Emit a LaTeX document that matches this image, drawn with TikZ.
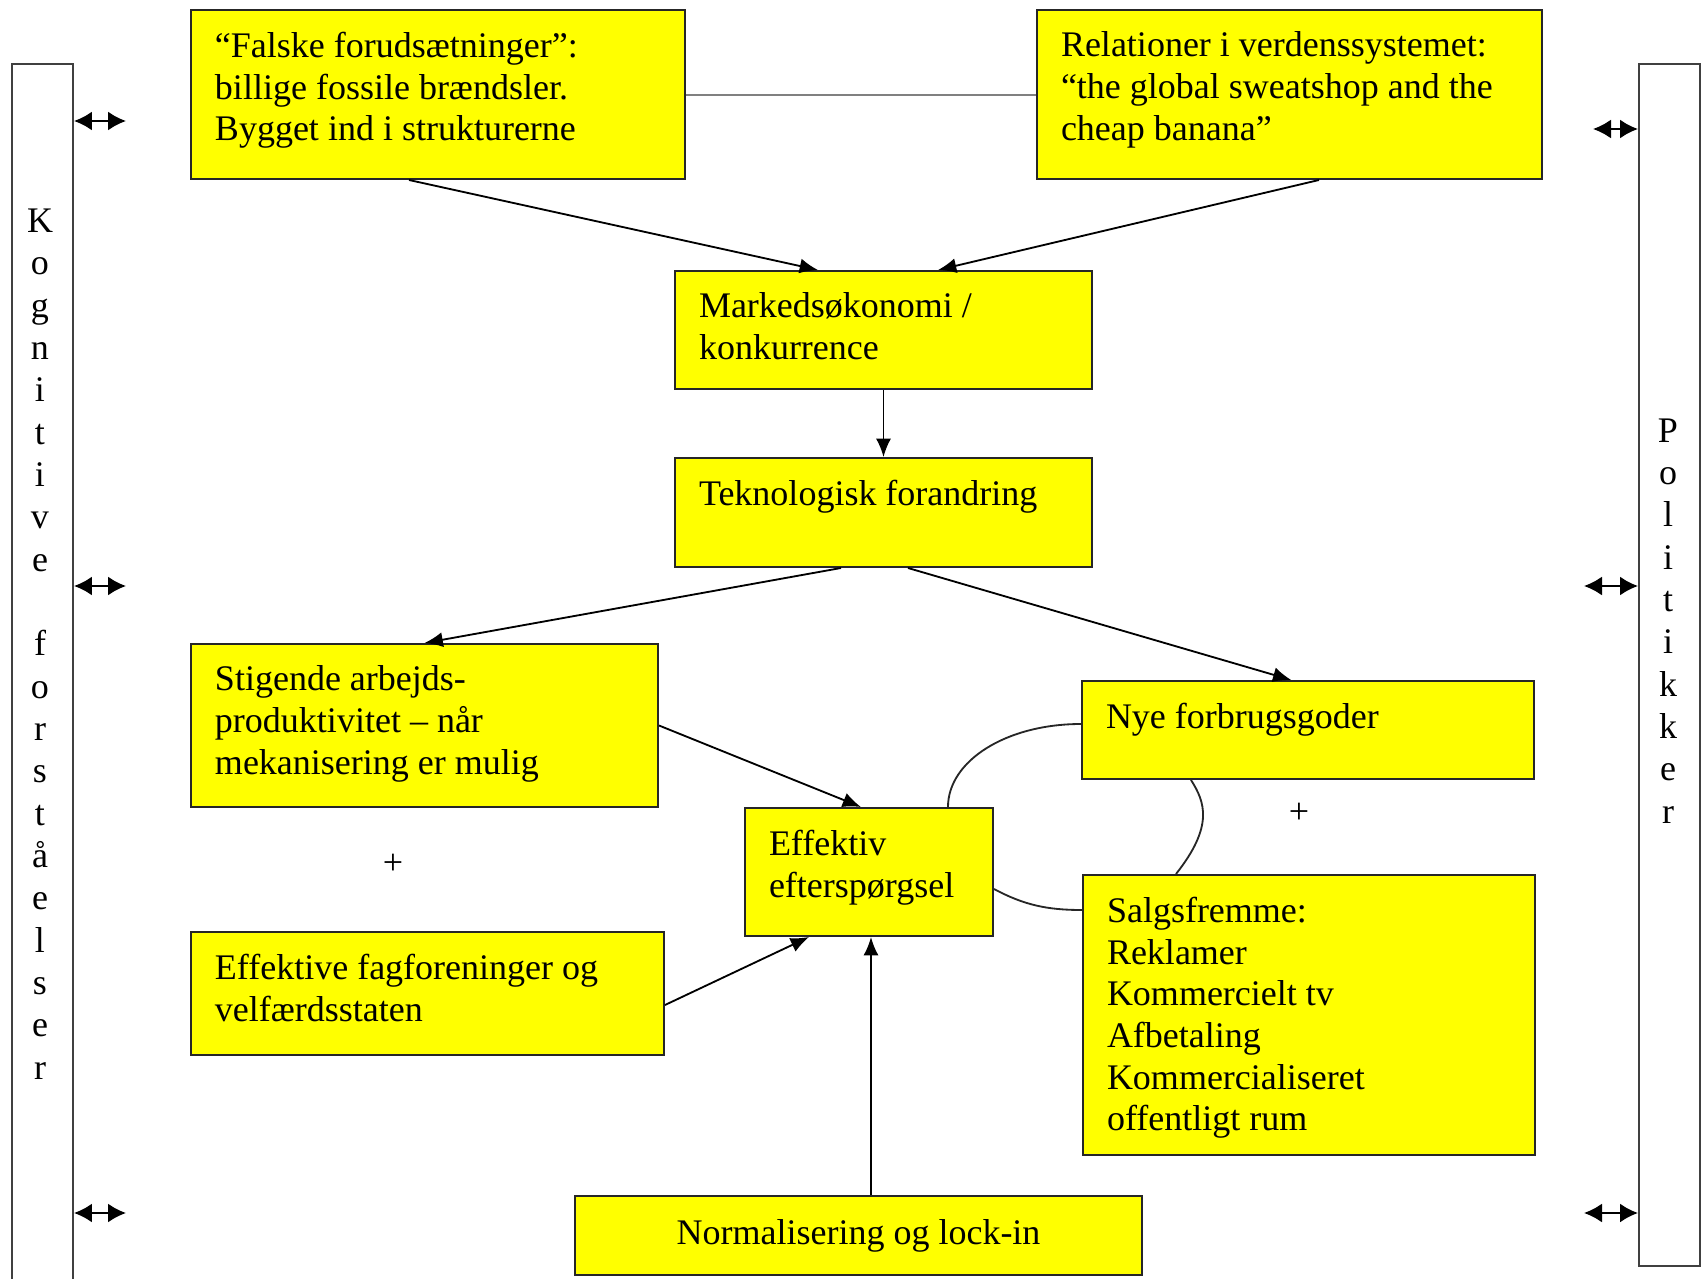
\documentclass[tikz,border=0pt]{standalone}
\usepackage{fontspec}
\setmainfont{Liberation Serif}
\usepackage{tikz}
\usetikzlibrary{arrows.meta, positioning, calc}
\definecolor{boxyellow}{RGB}{255,255,0}
\definecolor{bargray}{RGB}{64,64,64}
\newlength{\pxu}
\setlength{\pxu}{0.3pt}
\newcommand{\boxtext}[3]{\parbox[c][\dimexpr#2\pxu-44\pxu\relax][t]{\dimexpr#1\pxu-48\pxu\relax}{\raggedright#3}}
\tikzset{
	ybox/.style={draw=black!85, line width=0.6pt, fill=boxyellow, anchor=north west,
		inner xsep=7.2pt, inner ysep=6.6pt, font=\fontsize{10.8}{12.5}\selectfont},
	arr/.style={-{Latex[length=5.5pt,width=4.5pt]}, line width=0.55pt},
	link/.style={line width=0.55pt, black!85},
	sidebar/.style={draw=bargray, line width=0.6pt, anchor=north west, minimum width=18.3pt, inner sep=0pt},
	dblarr/.style={{Latex[length=5.4pt,width=5.7pt]}-{Latex[length=5.4pt,width=5.7pt]}, line width=0.6pt},
	vtext/.style={align=center, inner sep=0pt, font=\fontsize{10.8}{12.7}\selectfont}
}
\begin{document}
\begin{tikzpicture}[x=0.3pt, y=-0.3pt]
	\useasboundingbox (0,0) rectangle (1704,1279);
	\node[sidebar, minimum height=368.1pt] (kogn) at (11,63) {};
	\node[sidebar, minimum height=360.6pt] (polit) at (1638,63) {};
	\node[vtext] (kogntxt) at (40,644) {K\\o\\g\\n\\i\\t\\i\\v\\e\\\mbox{}\\f\\o\\r\\s\\t\\å\\e\\l\\s\\e\\r};
	\node[vtext] (polittxt) at (1668,621) {P\\o\\l\\i\\t\\i\\k\\k\\e\\r};

	\node[ybox] (falske) at (190,9) {\boxtext{494}{169}{“Falske forudsætninger”:\\billige fossile brændsler.\\Bygget ind i strukturerne}};
	\node[ybox] (relat) at (1036,9) {\boxtext{505}{169}{Relationer i verdenssystemet:\\“the global sweatshop and the\\cheap banana”}};
	\node[ybox] (marked) at (674,270) {\boxtext{417}{118}{Markedsøkonomi /\\konkurrence}};
	\node[ybox] (tekno) at (674,457) {\boxtext{417}{109}{Teknologisk forandring}};
	\node[ybox] (stig) at (190,643) {\boxtext{467}{163}{Stigende arbejds-\\produktivitet – når\\mekanisering er mulig}};
	\node[ybox] (nye) at (1081,680) {\boxtext{452}{98}{Nye forbrugsgoder}};
	\node[ybox] (effekt) at (744,807) {\boxtext{248}{128}{Effektiv\\efterspørgsel}};
	\node[ybox] (fag) at (190,931) {\boxtext{473}{123}{Effektive fagforeninger og\\velfærdsstaten}};
	\node[ybox] (salgs) at (1082,874) {\boxtext{452}{280}{Salgsfremme:\\Reklamer\\Kommercielt tv\\Afbetaling\\Kommercialiseret\\offentligt rum}};
	\node[ybox, inner sep=0pt, minimum width=170.1pt, minimum height=23.7pt] (norm) at (574,1195) {Normalisering og lock-in};

	\node[font=\fontsize{10.8}{12.5}\selectfont] (plusl) at (393,864) {+};
	\node[font=\fontsize{10.8}{12.5}\selectfont] (plusr) at (1299,813) {+};

	\draw[gray, line width=0.6pt] (falske.east) -- (relat.west);
	\draw[arr] ([xshift=-8.7pt]falske.south) -- ([xshift=-19.65pt]marked.north);
	\draw[arr] ([xshift=8.85pt]relat.south) -- ([xshift=16.35pt]marked.north);
	\draw[arr] (marked.south) -- (tekno.north);
	\draw[arr] ([xshift=-12.75pt]tekno.south) -- (stig.north);
	\draw[arr] ([xshift=7.35pt]tekno.south) -- ([xshift=-5pt]nye.north);
	\draw[arr] (stig.east) -- ([xshift=-2.4pt]effekt.north);
	\draw[arr] ([yshift=-3.45pt]fag.east) -- ([xshift=-18pt]effekt.south);
	\draw[arr] ([xshift=3.75pt]norm.north) -- ([xshift=3.75pt]norm.north |- effekt.south);

	\draw[link] ([xshift=23.7pt]effekt.north) .. controls +(0,-46) and +(-75,0) .. ([yshift=1.8pt]nye.west);
	\draw[link] ([yshift=-5.1pt]effekt.east) .. controls +(30,16) and +(-35,0) .. ([yshift=31.5pt]salgs.west);
	\draw[link] ([xshift=-35.1pt]nye.south) .. controls +(14,22) and +(38,-48) .. ([xshift=-39.9pt]salgs.north);

	\foreach \y [count=\i] in {121,586,1213} {
		\coordinate (kl\i) at (126,\y);
		\draw[dblarr] (kogn.east |- kl\i) -- (kl\i);
	}
	\foreach \x/\y [count=\i] in {1593/129,1584/586,1584/1213} {
		\coordinate (pl\i) at (\x,\y);
		\draw[dblarr] (pl\i) -- (polit.west |- pl\i);
	}
\end{tikzpicture}
\end{document}
